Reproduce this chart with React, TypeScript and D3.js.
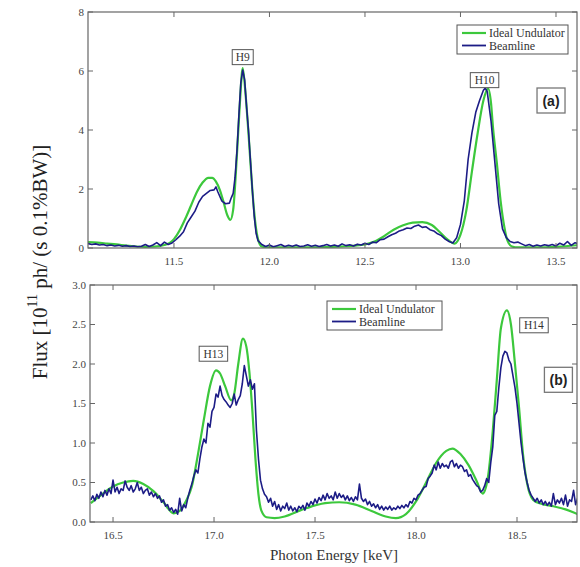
import * as d3 from "d3";

const GREEN = "#3cc83c";
const NAVY = "#1c1c86";
const AXIS = "#666";
const SERIF = "Liberation Serif, Times New Roman, serif";

// panel (a): harmonics H9 / H10
const xTicksA = [11.5, 12.0, 12.5, 13.0, 13.5];
const yTicksA = [0, 2, 4, 6, 8];

const idealA: [number, number][] = [
  [11.05, 0.2], [11.1, 0.18], [11.15, 0.15], [11.2, 0.12], [11.25, 0.08], [11.3, 0.05],
  [11.35, 0.04], [11.4, 0.05], [11.45, 0.1], [11.48, 0.18], [11.5, 0.3], [11.53, 0.6],
  [11.56, 1.0], [11.59, 1.45], [11.62, 1.9], [11.65, 2.22], [11.68, 2.38], [11.7, 2.38],
  [11.72, 2.25], [11.74, 1.97], [11.76, 1.55], [11.78, 1.1], [11.795, 0.95], [11.81, 1.3],
  [11.83, 3.2], [11.845, 4.9], [11.86, 6.1], [11.875, 5.2], [11.89, 3.9], [11.91, 2.0],
  [11.925, 0.9], [11.94, 0.3], [11.96, 0.05], [12.0, 0.02], [12.1, 0.02], [12.2, 0.02],
  [12.3, 0.03], [12.4, 0.06], [12.45, 0.08], [12.5, 0.12], [12.55, 0.22], [12.6, 0.4],
  [12.65, 0.62], [12.7, 0.77], [12.75, 0.86], [12.8, 0.88], [12.85, 0.78], [12.89, 0.55],
  [12.93, 0.3], [12.97, 0.15], [13.0, 0.45], [13.03, 1.25], [13.06, 2.6], [13.09, 3.9],
  [13.12, 5.0], [13.145, 5.4], [13.16, 4.9], [13.17, 4.1], [13.19, 2.9], [13.21, 1.6],
  [13.23, 0.7], [13.245, 0.27], [13.27, 0.05], [13.3, 0.02], [13.4, 0.02], [13.5, 0.04],
  [13.55, 0.06], [13.62, 0.1],
];

const beamA: [number, number][] = [
  [11.05, 0.15], [11.07, 0.12], [11.09, 0.14], [11.11, 0.1], [11.13, 0.12], [11.15, 0.08],
  [11.17, 0.1], [11.19, 0.07], [11.21, 0.09], [11.23, 0.06], [11.25, 0.08], [11.27, 0.05],
  [11.29, 0.07], [11.31, 0.04], [11.33, 0.06], [11.35, 0.12], [11.37, 0.05], [11.39, 0.1],
  [11.41, 0.18], [11.43, 0.08], [11.45, 0.2], [11.47, 0.12], [11.49, 0.17], [11.51, 0.28],
  [11.53, 0.4], [11.55, 0.55], [11.57, 0.85], [11.59, 1.05], [11.61, 1.25], [11.63, 1.55],
  [11.65, 1.75], [11.67, 1.85], [11.69, 1.95], [11.71, 1.97], [11.72, 2.07], [11.73, 1.9],
  [11.75, 1.6], [11.77, 1.5], [11.79, 1.52], [11.8, 1.7], [11.81, 1.85], [11.82, 2.4],
  [11.83, 3.3], [11.84, 4.5], [11.85, 5.6], [11.86, 6.03], [11.87, 5.7], [11.88, 4.8],
  [11.89, 4.0], [11.9, 3.0], [11.91, 2.0], [11.92, 1.1], [11.93, 0.5], [11.94, 0.25],
  [11.96, 0.12], [11.98, 0.05], [12.0, 0.1], [12.02, 0.04], [12.04, 0.08], [12.06, 0.12],
  [12.08, 0.05], [12.1, 0.09], [12.12, 0.06], [12.14, 0.1], [12.16, 0.05], [12.18, 0.07],
  [12.2, 0.11], [12.22, 0.06], [12.24, 0.09], [12.26, 0.05], [12.28, 0.08], [12.3, 0.12],
  [12.32, 0.07], [12.34, 0.1], [12.36, 0.06], [12.38, 0.14], [12.4, 0.08], [12.42, 0.11],
  [12.44, 0.07], [12.46, 0.13], [12.48, 0.1], [12.5, 0.16], [12.52, 0.12], [12.54, 0.2],
  [12.56, 0.18], [12.58, 0.28], [12.6, 0.3], [12.62, 0.38], [12.64, 0.45], [12.66, 0.5],
  [12.68, 0.58], [12.7, 0.62], [12.72, 0.68], [12.74, 0.66], [12.76, 0.74], [12.78, 0.78],
  [12.8, 0.7], [12.82, 0.72], [12.84, 0.62], [12.86, 0.58], [12.88, 0.48], [12.9, 0.42],
  [12.92, 0.3], [12.94, 0.22], [12.96, 0.17], [12.98, 0.35], [13.0, 0.8], [13.02, 1.6],
  [13.04, 3.0], [13.06, 3.9], [13.08, 4.6], [13.1, 5.0], [13.12, 5.35], [13.13, 5.42],
  [13.14, 5.3], [13.16, 4.3], [13.18, 2.9], [13.2, 1.5], [13.22, 0.65], [13.24, 0.35],
  [13.26, 0.22], [13.28, 0.18], [13.3, 0.2], [13.32, 0.14], [13.34, 0.08], [13.36, 0.12],
  [13.38, 0.06], [13.4, 0.1], [13.42, 0.07], [13.44, 0.11], [13.46, 0.08], [13.48, 0.12],
  [13.5, 0.07], [13.52, 0.16], [13.54, 0.1], [13.56, 0.22], [13.58, 0.09], [13.6, 0.18],
  [13.62, 0.13],
];

// panel (b): harmonics H13 / H14
const xTicksB = [16.5, 17.0, 17.5, 18.0, 18.5];
const yTicksB = [0, 0.5, 1.0, 1.5, 2.0, 2.5, 3.0];

const idealB: [number, number][] = [
  [16.39, 0.24], [16.45, 0.36], [16.5, 0.45], [16.55, 0.5], [16.6, 0.52], [16.65, 0.48],
  [16.7, 0.39], [16.75, 0.25], [16.8, 0.11], [16.83, 0.14], [16.86, 0.26], [16.89, 0.45],
  [16.92, 0.85], [16.95, 1.3], [16.98, 1.72], [17.01, 1.92], [17.03, 1.88], [17.055, 1.72],
  [17.085, 1.54], [17.1, 1.62], [17.12, 2.0], [17.143, 2.32], [17.16, 2.22], [17.175, 1.9],
  [17.19, 1.4], [17.205, 0.8], [17.22, 0.35], [17.235, 0.14], [17.26, 0.06], [17.3, 0.05],
  [17.35, 0.07], [17.43, 0.15], [17.5, 0.21], [17.55, 0.24], [17.62, 0.25], [17.7, 0.22],
  [17.78, 0.14], [17.85, 0.07], [17.9, 0.05], [17.95, 0.1], [18.0, 0.26], [18.05, 0.5],
  [18.1, 0.75], [18.15, 0.9], [18.18, 0.93], [18.22, 0.86], [18.26, 0.72], [18.3, 0.52],
  [18.33, 0.36], [18.355, 0.55], [18.38, 1.15], [18.4, 1.8], [18.42, 2.45], [18.45, 2.68],
  [18.47, 2.5], [18.49, 2.0], [18.51, 1.45], [18.53, 0.85], [18.55, 0.49], [18.58, 0.28],
  [18.62, 0.23], [18.68, 0.2], [18.74, 0.16], [18.8, 0.1],
];

const beamB: [number, number][] = [
  [16.39, 0.28], [16.4, 0.33], [16.41, 0.27], [16.42, 0.35], [16.43, 0.3], [16.44, 0.38],
  [16.45, 0.32], [16.46, 0.4], [16.47, 0.34], [16.48, 0.42], [16.49, 0.36], [16.5, 0.53],
  [16.51, 0.38], [16.52, 0.44], [16.53, 0.36], [16.54, 0.42], [16.55, 0.4], [16.56, 0.52],
  [16.57, 0.44], [16.58, 0.4], [16.59, 0.46], [16.6, 0.38], [16.61, 0.42], [16.62, 0.5],
  [16.63, 0.4], [16.64, 0.44], [16.65, 0.36], [16.66, 0.4], [16.67, 0.42], [16.68, 0.34],
  [16.69, 0.38], [16.7, 0.32], [16.71, 0.36], [16.72, 0.3], [16.73, 0.33], [16.74, 0.25],
  [16.75, 0.28], [16.76, 0.2], [16.77, 0.22], [16.78, 0.15], [16.79, 0.18], [16.8, 0.12],
  [16.81, 0.16], [16.82, 0.1], [16.83, 0.3], [16.84, 0.14], [16.85, 0.22], [16.86, 0.18],
  [16.87, 0.3], [16.88, 0.4], [16.89, 0.48], [16.9, 0.58], [16.91, 0.66], [16.92, 0.62],
  [16.93, 0.8], [16.94, 0.95], [16.95, 1.05], [16.96, 1.0], [16.97, 1.25], [16.98, 1.2],
  [16.99, 1.4], [17.0, 1.45], [17.01, 1.62], [17.02, 1.58], [17.03, 1.72], [17.04, 1.6],
  [17.05, 1.55], [17.06, 1.52], [17.07, 1.48], [17.08, 1.45], [17.09, 1.5], [17.1, 1.62],
  [17.11, 1.48], [17.12, 1.55], [17.13, 1.6], [17.14, 1.75], [17.15, 1.98], [17.16, 1.85],
  [17.17, 1.72], [17.18, 1.8], [17.19, 1.68], [17.2, 1.75], [17.21, 1.16], [17.22, 0.8],
  [17.23, 0.53], [17.24, 0.42], [17.25, 0.35], [17.26, 0.32], [17.27, 0.25], [17.28, 0.3],
  [17.29, 0.2], [17.3, 0.26], [17.31, 0.16], [17.32, 0.22], [17.33, 0.14], [17.34, 0.2],
  [17.35, 0.17], [17.36, 0.24], [17.37, 0.15], [17.38, 0.2], [17.39, 0.14], [17.4, 0.18],
  [17.41, 0.13], [17.42, 0.2], [17.43, 0.17], [17.44, 0.21], [17.45, 0.15], [17.46, 0.24],
  [17.47, 0.2], [17.48, 0.26], [17.49, 0.22], [17.5, 0.29], [17.51, 0.24], [17.52, 0.31],
  [17.53, 0.27], [17.54, 0.34], [17.55, 0.28], [17.56, 0.36], [17.57, 0.3], [17.58, 0.33],
  [17.59, 0.28], [17.6, 0.38], [17.61, 0.3], [17.62, 0.36], [17.63, 0.31], [17.64, 0.34],
  [17.65, 0.28], [17.66, 0.33], [17.67, 0.27], [17.68, 0.31], [17.69, 0.26], [17.7, 0.32],
  [17.71, 0.28], [17.72, 0.48], [17.73, 0.3], [17.74, 0.26], [17.75, 0.29], [17.76, 0.22],
  [17.77, 0.26], [17.78, 0.2], [17.79, 0.23], [17.8, 0.18], [17.81, 0.22], [17.82, 0.16],
  [17.83, 0.2], [17.84, 0.15], [17.85, 0.19], [17.86, 0.16], [17.87, 0.2], [17.88, 0.15],
  [17.89, 0.18], [17.9, 0.16], [17.91, 0.2], [17.92, 0.17], [17.93, 0.21], [17.94, 0.18],
  [17.95, 0.22], [17.96, 0.19], [17.97, 0.26], [17.98, 0.24], [17.99, 0.3], [18.0, 0.28],
  [18.01, 0.34], [18.02, 0.36], [18.03, 0.4], [18.04, 0.44], [18.05, 0.45], [18.06, 0.55],
  [18.07, 0.58], [18.08, 0.62], [18.09, 0.72], [18.1, 0.66], [18.11, 0.76], [18.12, 0.68],
  [18.13, 0.74], [18.14, 0.7], [18.15, 0.72], [18.16, 0.68], [18.17, 0.76], [18.18, 0.78],
  [18.19, 0.7], [18.2, 0.74], [18.21, 0.68], [18.22, 0.72], [18.23, 0.7], [18.24, 0.64],
  [18.25, 0.66], [18.26, 0.58], [18.27, 0.6], [18.28, 0.54], [18.29, 0.5], [18.3, 0.46],
  [18.31, 0.44], [18.32, 0.38], [18.33, 0.4], [18.34, 0.46], [18.35, 0.55], [18.36, 0.5],
  [18.37, 0.75], [18.38, 0.95], [18.39, 1.35], [18.4, 1.4], [18.41, 1.7], [18.42, 1.95],
  [18.43, 2.1], [18.44, 2.16], [18.45, 2.14], [18.46, 2.05], [18.47, 2.0], [18.48, 1.85],
  [18.49, 1.7], [18.5, 1.5], [18.51, 1.25], [18.52, 1.0], [18.53, 0.8], [18.54, 0.62],
  [18.55, 0.5], [18.56, 0.4], [18.57, 0.34], [18.58, 0.3], [18.59, 0.26], [18.6, 0.3],
  [18.61, 0.24], [18.62, 0.28], [18.63, 0.22], [18.64, 0.26], [18.65, 0.21], [18.66, 0.25],
  [18.67, 0.2], [18.68, 0.36], [18.69, 0.22], [18.7, 0.28], [18.71, 0.24], [18.72, 0.3],
  [18.73, 0.22], [18.74, 0.34], [18.75, 0.2], [18.76, 0.28], [18.77, 0.26], [18.78, 0.4],
  [18.79, 0.22], [18.8, 0.3],
];

// harmonic tags, placed in data units
const notesA = [
  { text: "H9", x: 11.86, y: 6.47 },
  { text: "H10", x: 13.126, y: 5.69 },
];
const notesB = [
  { text: "H13", x: 16.997, y: 2.13 },
  { text: "H14", x: 18.584, y: 2.49 },
];

type Pt = [number, number];
type PanelProps = {
  id: string;
  left: number; top: number; right: number; bottom: number;
  xDomain: [number, number]; yDomain: [number, number];
  xTicks: number[]; yTicks: number[];
  yFmt: (v: number) => string;
  ideal: Pt[]; beam: Pt[];
  notes: { text: string; x: number; y: number }[];
  tag: { text: string; x: number; y: number };
  legend: { x: number; y: number; w: number };
};

function Panel(p: PanelProps) {
  const x = d3.scaleLinear().domain(p.xDomain).range([p.left, p.right]);
  const y = d3.scaleLinear().domain(p.yDomain).range([p.bottom, p.top]);
  const line = d3.line<Pt>().x((d) => x(d[0])).y((d) => y(d[1]));
  const smooth = d3.line<Pt>().x((d) => x(d[0])).y((d) => y(d[1])).curve(d3.curveMonotoneX);
  const tk = 5;

  return (
    <g>
      <defs>
        <clipPath id={`clip-${p.id}`}>
          <rect x={p.left} y={p.top} width={p.right - p.left} height={p.bottom - p.top} />
        </clipPath>
      </defs>

      <g clipPath={`url(#clip-${p.id})`}>
        <path d={smooth(p.ideal) ?? ""} fill="none" stroke={GREEN} strokeWidth={2.2} />
        <path d={line(p.beam) ?? ""} fill="none" stroke={NAVY} strokeWidth={1.6} strokeLinejoin="round" />
      </g>

      <rect x={p.left} y={p.top} width={p.right - p.left} height={p.bottom - p.top}
        fill="none" stroke={AXIS} strokeWidth={1.2} />

      {p.xTicks.map((t) => (
        <g key={`x${t}`}>
          <line x1={x(t)} x2={x(t)} y1={p.bottom} y2={p.bottom - tk} stroke={AXIS} />
          <line x1={x(t)} x2={x(t)} y1={p.top} y2={p.top + tk} stroke={AXIS} />
          <text x={x(t)} y={p.bottom + 17} textAnchor="middle" fontSize={11}
            fontFamily={SERIF} fill="#444">{d3.format(".1f")(t)}</text>
        </g>
      ))}
      {p.yTicks.map((t) => (
        <g key={`y${t}`}>
          <line x1={p.left} x2={p.left + tk} y1={y(t)} y2={y(t)} stroke={AXIS} />
          <line x1={p.right} x2={p.right - tk} y1={y(t)} y2={y(t)} stroke={AXIS} />
          <text x={p.left - 4} y={y(t) + 3.5} textAnchor="end" fontSize={11}
            fontFamily={SERIF} fill="#444">{p.yFmt(t)}</text>
        </g>
      ))}

      {p.notes.map((n) => {
        const w = n.text.length * 7.5 + 6;
        return (
          <g key={n.text}>
            <rect x={x(n.x) - w / 2} y={y(n.y) - 7.5} width={w} height={15}
              fill="#fff" stroke="#555" strokeWidth={1} />
            <text x={x(n.x)} y={y(n.y) + 4} textAnchor="middle" fontSize={11.5}
              fontFamily={SERIF} fill="#333">{n.text}</text>
          </g>
        );
      })}

      <rect x={x(p.tag.x) - 14} y={y(p.tag.y) - 12.5} width={28} height={25}
        fill="#fff" stroke="#777" strokeWidth={1.3} />
      <text x={x(p.tag.x)} y={y(p.tag.y) + 5} textAnchor="middle" fontSize={14}
        fontWeight="bold" fontFamily="Liberation Sans, Arial, sans-serif" fill="#222">{p.tag.text}</text>

      <g transform={`translate(${p.legend.x},${p.legend.y})`}>
        <rect x={0} y={0} width={p.legend.w} height={29} fill="#fff" stroke="#555" strokeWidth={1} />
        <line x1={5} x2={29} y1={8} y2={8} stroke={GREEN} strokeWidth={2.2} />
        <line x1={5} x2={29} y1={20.5} y2={20.5} stroke={NAVY} strokeWidth={1.8} />
        <text x={32} y={12} fontSize={12} fontFamily={SERIF} fill="#333">Ideal Undulator</text>
        <text x={32} y={24.5} fontSize={12} fontFamily={SERIF} fill="#333">Beamline</text>
      </g>
    </g>
  );
}

export default function App() {
  return (
    <div style={{ position: "absolute", left: 0, top: 0 }}>
      <svg width={580} height={567} style={{ display: "block", background: "#fff" }}>
        <Panel id="a" left={88} top={12} right={577} bottom={248}
          xDomain={[11.05, 13.61]} yDomain={[0, 8]}
          xTicks={xTicksA} yTicks={yTicksA} yFmt={(v) => d3.format("d")(v)}
          ideal={idealA} beam={beamA} notes={notesA}
          tag={{ text: "(a)", x: 13.474, y: 5.0 }}
          legend={{ x: 457, y: 25, w: 111 }} />
        <Panel id="b" left={90} top={285} right={577} bottom={522}
          xDomain={[16.386, 18.797]} yDomain={[0, 3]}
          xTicks={xTicksB} yTicks={yTicksB} yFmt={(v) => d3.format(".1f")(v)}
          ideal={idealB} beam={beamB} notes={notesB}
          tag={{ text: "(b)", x: 18.705, y: 1.8 }}
          legend={{ x: 327, y: 301, w: 115 }} />

        <text transform="translate(47,262) rotate(-90)" textAnchor="middle"
          fontSize={21} fontFamily={SERIF} fill="#222">
          Flux [10<tspan dy={-10} fontSize={14}>11</tspan>
          <tspan dy={10}> ph/ (s 0.1%BW)]</tspan>
        </text>
        <text x={334} y={560} textAnchor="middle" fontSize={15} fontFamily={SERIF} fill="#333">
          Photon Energy [keV]
        </text>
      </svg>
    </div>
  );
}
